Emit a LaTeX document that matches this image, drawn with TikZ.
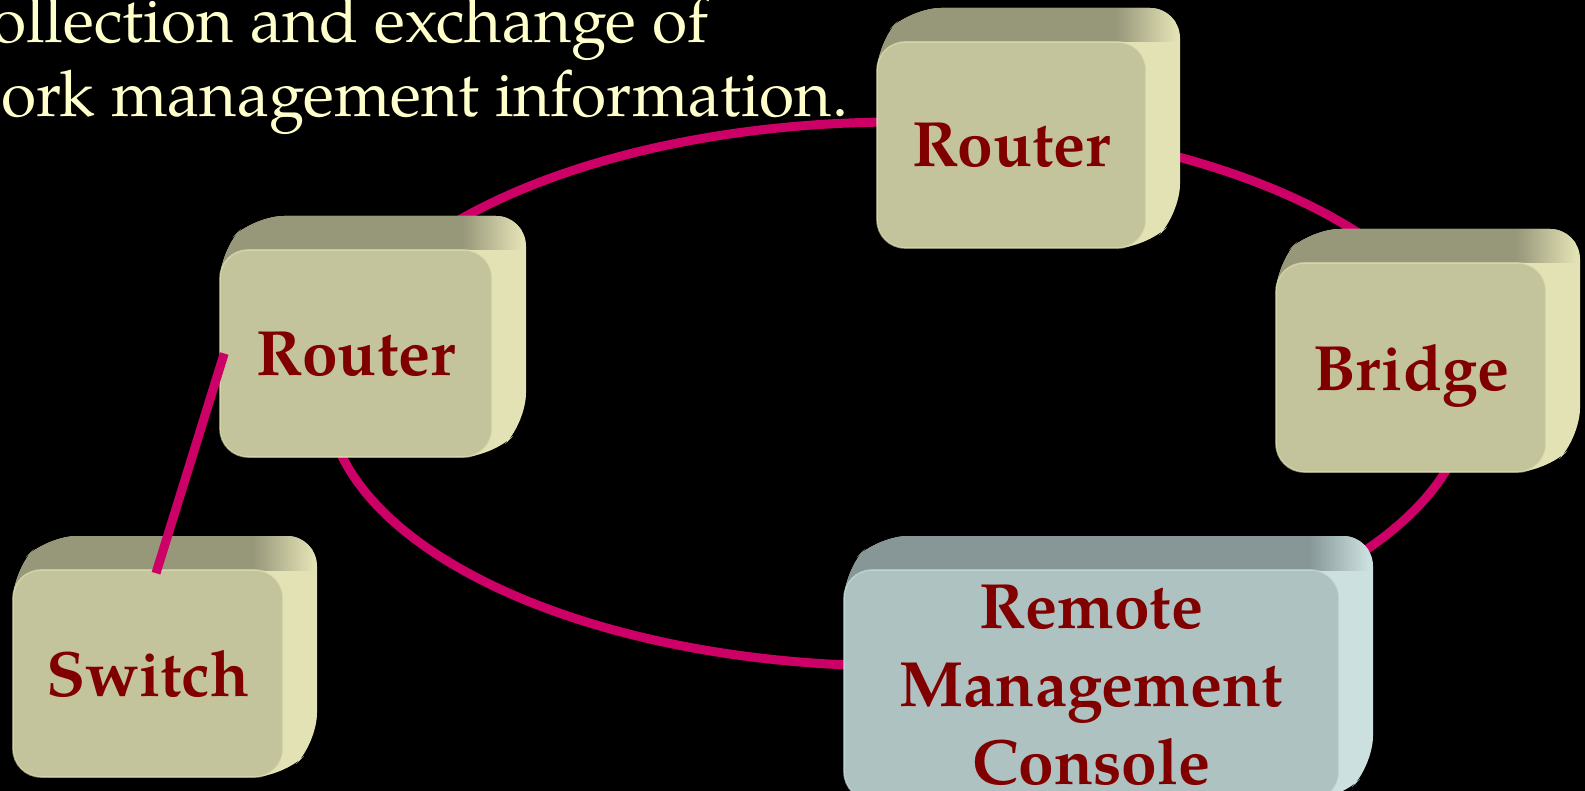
\documentclass[tikz,border=0pt]{standalone}
\usepackage{fontspec}
\setmainfont{TeX Gyre Pagella}
\definecolor{olivefront}{HTML}{C4C49C}
\definecolor{olivetop}{HTML}{97977A}
\definecolor{oliveside}{HTML}{E3E2B5}
\definecolor{steelfront}{HTML}{AFC2C2}
\definecolor{steeltop}{HTML}{879797}
\definecolor{steelside}{HTML}{CDE0E0}
\definecolor{ringpink}{HTML}{CC0066}
\definecolor{labelred}{HTML}{800000}
\definecolor{headyellow}{HTML}{FFFFCC}

\tikzset{
  face/.style={rectangle, rounded corners=14pt, inner sep=0pt, text=labelred,
    font=\bfseries\fontsize{32pt}{39pt}\selectfont, align=center, text depth=0pt},
  head/.style={text=headyellow, font=\fontsize{32pt}{37pt}\selectfont, inner sep=0pt},
  ring/.style={draw=ringpink, line width=4.5pt},
  link/.style={draw=ringpink, line width=4.5pt},
}

% a bevelled device box: name, front face corners (x0,y0) (x1,y1), palette, label
\newcommand\netbox[7]{%
  \begin{scope}
    \clip[rounded corners=15pt] (#2,#5) -- (#2,#3) -- ({#2+34},{#3-34})
      -- ({#4+34},{#3-34}) -- ({#4+34},{#5-34}) -- (#4,#5) -- cycle;
    \fill[#6side] ({#2-10},{#3-50}) rectangle ({#4+50},{#5+10});
    \fill[#6top] ({#2-10},{#3-50}) rectangle ({#4-30},{#3+30});
    \shade[left color=#6top, right color=#6side] ({#4-30},{#3-50}) rectangle ({#4+30},{#3});
  \end{scope}
  \node[face, fill=#6front, draw=#6side, draw opacity=0.6, line width=0.8pt,
    minimum width={(#4-#2)*0.5pt}, minimum height={(#5-#3)*0.5pt}]
    (#1) at ({(#2+#4)/2},{(#3+#5)/2}) {#7};
}

\begin{document}
\begin{tikzpicture}[x=0.5pt, y=-0.5pt]
  \useasboundingbox (0,0) rectangle (1585,791);
  \fill[black] (0,0) rectangle (1585,791);
  \clip (0,0) rectangle (1585,791);

  \node[head, anchor=base east] (line1) at (709,43) {ollection and exchange of};
  \node[head, anchor=base west] (line2) at (1,117) {ork management information.};

  % the ring network
  \coordinate (ringc) at (898,394);
  \draw[ring] (ringc) ellipse [x radius=571, y radius=272];

  \netbox{router1}{877}{42}{1146}{248}{olive}{Router}
  \netbox{router2}{220}{250}{492}{457}{olive}{Router}
  \netbox{bridge}{1276}{263}{1546}{472}{olive}{Bridge}
  \netbox{switch}{13}{570}{283}{777}{olive}{Switch}
  \netbox{console}{844}{570}{1339}{800}{steel}{Remote\\Management\\Console}

  \draw[link] ([shift={(8,4)}]switch.north) -- ([shift={(5,0)}]router2.west);
\end{tikzpicture}
\end{document}
